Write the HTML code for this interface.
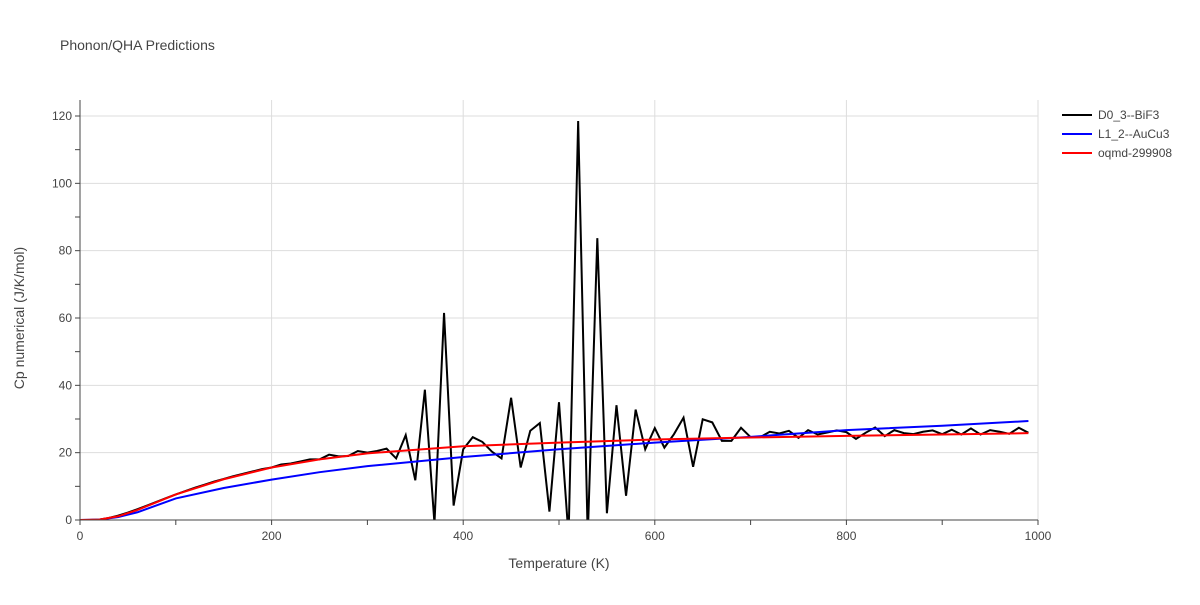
<!DOCTYPE html>
<html><head><meta charset="utf-8"><style>
body{margin:0;background:#fff;font-family:"Liberation Sans",sans-serif}
svg text{font-family:"Liberation Sans",sans-serif;fill:#444}
</style></head><body>
<svg id="chart" width="1200" height="600" xmlns="http://www.w3.org/2000/svg">
<rect width="1200" height="600" fill="#fff"/>
<text x="60" y="50" font-size="14" fill="#444">Phonon/QHA Predictions</text>
<g id="grid"></g><g id="series"></g><g id="axes"></g>
<text x="559" y="568" font-size="14" text-anchor="middle">Temperature (K)</text>
<text transform="translate(24,318) rotate(-90)" font-size="14" text-anchor="middle">Cp numerical (J/K/mol)</text>
<g id="legend"></g>
</svg>
<script>
const blackT = [];for(let i=0;i<100;i++)blackT.push(i*10);
const blackV = [0,0,0.1,0.6,1.3,2.2,3.2,4.3,5.4,6.5,7.6,8.6,9.6,10.5,11.4,12.2,13.0,13.7,14.4,15.1,15.6,16.5,16.8,17.4,18.0,18.0,19.4,18.9,19.0,20.5,20.0,20.5,21.2,18.3,25.2,11.8,38.7,-1,61.5,4.3,21.0,24.6,23.2,20.3,18.3,36.3,15.6,26.5,28.8,2.5,35,-5,118.5,-5,83.7,2.0,34.1,7.2,32.8,21.0,27.3,21.5,25.5,30.4,15.8,29.9,29.0,23.5,23.5,27.4,24.6,24.6,26.2,25.7,26.5,24.4,26.7,25.4,26.0,26.6,26.1,24.1,25.9,27.5,24.9,26.7,25.8,25.5,26.2,26.6,25.5,26.8,25.4,27.2,25.4,26.7,26.2,25.6,27.4,25.9];
const blueT = [0,20,40,60,100,150,200,250,300,400,500,600,700,800,900,990];
const blueV = [0,0.1,0.9,2.3,6.4,9.5,12,14.2,16,18.7,21,23,24.7,26.7,28,29.4];
const redT = [0,20,40,60,80,100,150,200,250,300,400,500,600,700,800,900,990];
const redV = [0,0.1,1.1,3.0,5.3,7.6,12.1,15.6,18.0,19.8,21.9,23,23.9,24.5,25,25.4,25.8];
const xTicks=[0,200,400,600,800,1000];
const yTicks=[0,20,40,60,80,100,120];
const names=["D0_3--BiF3","L1_2--AuCu3","oqmd-299908"];
const colors=["#000","#00f","#f00"];
const X=t=>80+t*(958/1000), Y=v=>520-v*(404/120);
const NS="http://www.w3.org/2000/svg";
function mk(tag,attrs,parent){const e=document.createElementNS(NS,tag);for(const k in attrs)e.setAttribute(k,attrs[k]);parent.appendChild(e);return e;}
const grid=document.getElementById('grid'),axes=document.getElementById('axes'),ser=document.getElementById('series'),leg=document.getElementById('legend');
for(const t of xTicks){if(t>0){const l=mk('line',{x1:X(t),x2:X(t),y1:100,y2:520,stroke:'#ddd'},grid);

}
const tx=mk('text',{x:X(t),y:540,'font-size':12,'text-anchor':'middle'},axes);tx.textContent=t;

}
for(let t=0;t<=1000;t+=100)mk('line',{x1:X(t),x2:X(t),y1:520,y2:525,stroke:'#444'},axes);
for(const v of yTicks){if(v>0){const l=mk('line',{x1:80,x2:1038,y1:Y(v),y2:Y(v),stroke:'#ddd'},grid);

}
const tx=mk('text',{x:72,y:Y(v)+4,'font-size':12,'text-anchor':'end'},axes);tx.textContent=v;

}
for(let v=0;v<=120;v+=10)mk('line',{x1:75,x2:80,y1:Y(v),y2:Y(v),stroke:'#444'},axes);
mk('line',{x1:80,x2:1038,y1:520,y2:520,stroke:'#444'},axes);
mk('line',{x1:80,x2:80,y1:100,y2:520,stroke:'#444'},axes);
const data=[[blackT,blackV],[blueT,blueV],[redT,redV]];
const clip=mk('clipPath',{id:'pc'},ser);mk('rect',{x:80,y:100,width:958,height:420},clip);
data.forEach((d,i)=>{const p=mk('polyline',{points:d[0].map((t,j)=>X(t)+','+Y(d[1][j])).join(' '),fill:'none',stroke:colors[i],'stroke-width':2,'clip-path':'url(#pc)'},ser);


const g=mk('g',{},leg);


mk('line',{x1:1062,x2:1092,y1:115+i*19,y2:115+i*19,stroke:colors[i],'stroke-width':2},g);
const tx=mk('text',{x:1098,y:119+i*19,'font-size':12},g);tx.textContent=names[i];});
</script>
</body></html>
